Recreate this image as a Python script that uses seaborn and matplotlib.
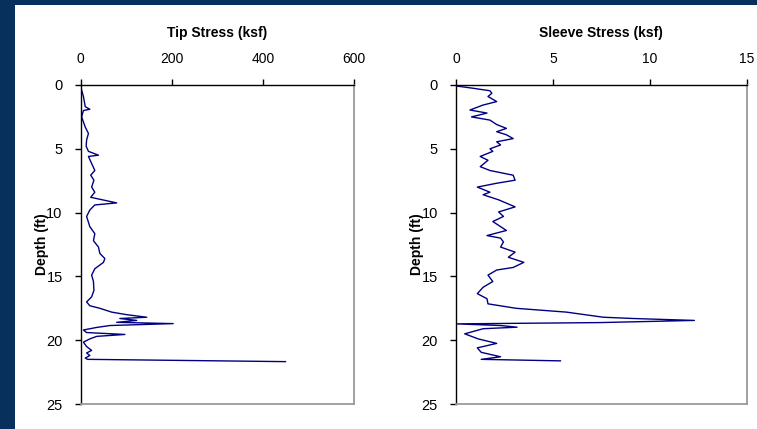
import numpy as np
import pandas as pd
import seaborn as sns
import matplotlib.pyplot as plt
from matplotlib.patches import Rectangle

# 판독한 콘 관입 시험 데이터 (깊이 ft, 응력 ksf)
tip_depth = [0.0, 0.13, 0.4, 0.9, 1.7, 1.9, 2.0, 2.5, 3.3, 3.8, 4.3, 4.8, 5.2, 5.5, 5.6,
             6.15, 6.7, 7.07, 7.46, 8.0, 8.4, 8.8, 9.24, 9.4, 9.8, 10.3, 11.1, 11.65,
             12.2, 12.7, 13.2, 13.6, 13.9, 14.4, 14.9, 15.4, 16.1, 16.6, 17.0, 17.3,
             17.5, 17.8, 18.0, 18.2, 18.3, 18.45, 18.6, 18.7, 18.85, 19.0, 19.2, 19.4,
             19.55, 19.7, 19.9, 20.15, 20.5, 20.8, 21.0, 21.2, 21.4, 21.5, 21.68]
tip_stress = [0, 0, 2, 6, 10, 20, 6, 2, 10, 17, 13, 12, 17, 39, 17,
              24, 31, 22, 29, 24, 31, 22, 79, 31, 20, 13, 20, 31,
              28, 39, 42, 53, 50, 31, 24, 28, 29, 24, 13, 20,
              42, 68, 101, 145, 86, 123, 79, 203, 64, 35, 6, 13,
              97, 35, 20, 6, 13, 24, 13, 20, 10, 15, 450]

sleeve_depth = [0.0, 0.08, 0.26, 0.45, 0.65, 0.9, 1.3, 1.57, 1.96, 2.2, 2.5, 2.75, 3.1,
                3.4, 3.66, 3.9, 4.2, 4.45, 4.7, 5.0, 5.2, 5.6, 5.9, 6.4, 6.7, 7.07,
                7.46, 7.7, 8.0, 8.4, 8.6, 9.0, 9.55, 9.95, 10.3, 10.7, 11.1, 11.4,
                11.8, 12.0, 12.3, 12.7, 13.1, 13.5, 13.9, 14.3, 14.5, 14.9, 15.4,
                15.85, 16.35, 16.75, 17.15, 17.5, 17.8, 18.2, 18.3, 18.45, 18.62,
                18.72, 18.85, 18.98, 19.1, 19.5, 19.9, 20.25, 20.6, 20.95, 21.3,
                21.5, 21.62]
sleeve_stress = [0.0, 0.03, 0.9, 1.75, 1.85, 1.65, 2.1, 1.4, 0.72, 1.6, 0.8, 1.75, 2.1,
                 2.6, 2.1, 2.6, 2.95, 2.1, 2.3, 1.75, 1.9, 1.25, 1.65, 1.25, 1.75, 2.95,
                 3.05, 2.1, 1.1, 1.75, 1.4, 2.2, 3.05, 2.2, 2.45, 1.9, 2.3, 2.6,
                 1.6, 2.3, 2.45, 2.3, 3.05, 2.7, 3.5, 2.95, 2.1, 1.65, 1.9,
                 1.4, 1.1, 1.6, 1.65, 3.1, 5.7, 7.6, 9.15, 12.3, 7.4,
                 0.0, 2.3, 3.15, 1.4, 0.45, 1.15, 2.1, 1.1, 1.3, 2.3,
                 1.3, 5.4]

tip_df = pd.DataFrame({'Depth': tip_depth, 'Stress': tip_stress})
sleeve_df = pd.DataFrame({'Depth': sleeve_depth, 'Stress': sleeve_stress})

sns.set_style('white')
plt.rcParams['font.family'] = ['Liberation Sans', 'DejaVu Sans']
plt.rcParams['text.color'] = 'black'

fig = plt.figure(figsize=(7.57, 4.29), dpi=100)
fig.patch.set_facecolor('#08305c')
bg = Rectangle((15 / 757, 0), 1, 1 - 5 / 429, transform=fig.transFigure,
               facecolor='white', edgecolor='none', zorder=-10)
fig.patches.append(bg)

W, H = 757, 429
panels = [
    (tip_df, 'Tip Stress (ksf)', 80.7, 354.0, [0, 200, 400, 600]),
    (sleeve_df, 'Sleeve Stress (ksf)', 456.0, 746.7, [0, 5, 10, 15]),
]
top_px, bot_px = 85.0, 404.0

for df, title, x0, x1, xticks in panels:
    ax = fig.add_axes([x0 / W, 1 - bot_px / H, (x1 - x0) / W, (bot_px - top_px) / H])
    sns.lineplot(data=df, x='Stress', y='Depth', sort=False, estimator=None,
                 color='#000080', lw=1.0, ax=ax)
    ax.set_xlim(xticks[0], xticks[-1])
    ax.set_ylim(25, 0)
    ax.set_xticks(xticks)
    ax.set_yticks([0, 5, 10, 15, 20, 25])
    ax.xaxis.tick_top()
    ax.tick_params(axis='x', direction='out', length=4, width=1, pad=10, labelsize=10,
                   top=True, bottom=False, colors='black')
    ax.tick_params(axis='y', direction='out', length=4, width=1, pad=9, labelsize=10.5,
                   left=True, colors='black')
    ax.set_xlabel('')
    ax.set_ylabel('Depth (ft)', fontweight='bold', fontsize=10, labelpad=-2, color='black')
    ax.set_title(title, fontweight='bold', fontsize=10, pad=0, color='black',
                 y=1 + (top_px - 33) / (bot_px - top_px), va='center')
    for s in ['left', 'top']:
        ax.spines[s].set_color('black')
        ax.spines[s].set_linewidth(1.0)
    for s in ['right', 'bottom']:
        ax.spines[s].set_color('#9a9a9a')
        ax.spines[s].set_linewidth(1.3)
    ax.set_facecolor('white')
    ax.set_zorder(1)

plt.savefig('out.png', dpi=100, facecolor=fig.get_facecolor())
